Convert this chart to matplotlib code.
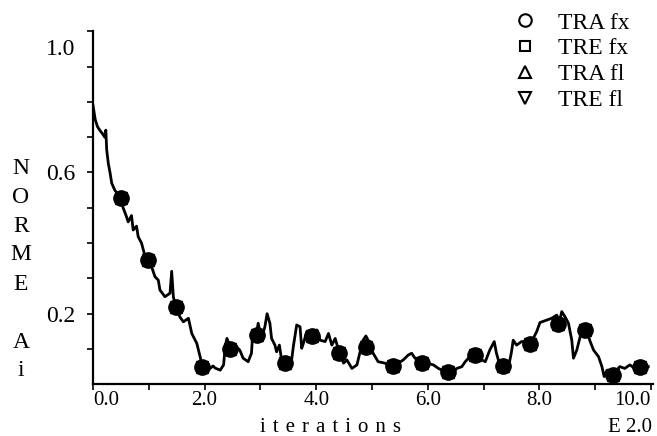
import matplotlib
matplotlib.use("Agg")
import matplotlib.pyplot as plt
from matplotlib.lines import Line2D
from matplotlib.transforms import ScaledTranslation

plt.rcParams['font.family'] = ['Liberation Serif', 'DejaVu Serif']

# norm curve
it_x = [0.00, 0.02, 0.04, 0.08, 0.12, 0.17, 0.21, 0.23, 0.245, 0.275, 0.305, 0.335,
        0.39, 0.44, 0.50, 0.54, 0.60, 0.63, 0.69, 0.72, 0.78, 0.81, 0.87, 0.92,
        0.99, 1.05, 1.11, 1.17, 1.20, 1.29, 1.38, 1.41, 1.44, 1.48, 1.56, 1.62,
        1.71, 1.77, 1.86, 1.92, 1.96, 2.03, 2.10, 2.15, 2.19, 2.28, 2.34, 2.37,
        2.40, 2.45, 2.54, 2.63, 2.69, 2.78, 2.84, 2.86, 2.93, 2.96, 3.02, 3.08,
        3.12, 3.17, 3.20, 3.26, 3.29, 3.34, 3.38, 3.47, 3.56, 3.59, 3.65, 3.71,
        3.74, 3.77, 3.83, 3.92, 4.01, 4.07, 4.16, 4.22, 4.28, 4.34, 4.40, 4.49,
        4.55, 4.64, 4.73, 4.78, 4.84, 4.89, 4.96, 5.02, 5.11, 5.23, 5.35, 5.47,
        5.56, 5.65, 5.71, 5.77, 5.86, 5.98, 6.10, 6.19, 6.31, 6.43, 6.52, 6.61,
        6.67, 6.73, 6.82, 6.91, 6.97, 7.03, 7.11, 7.19, 7.23, 7.29, 7.38, 7.46,
        7.50, 7.53, 7.59, 7.68, 7.80, 7.89, 7.95, 8.01, 8.13, 8.22, 8.31, 8.36,
        8.40, 8.46, 8.52, 8.58, 8.61, 8.67, 8.73, 8.76, 8.85, 8.91, 8.97, 9.06,
        9.12, 9.16, 9.21, 9.27, 9.36, 9.44, 9.53, 9.62, 9.71, 9.80, 9.89, 9.95]
norme = [0.79, 0.77, 0.75, 0.73, 0.72, 0.71, 0.70, 0.72, 0.665, 0.625, 0.60, 0.57,
         0.55, 0.54, 0.52, 0.50, 0.475, 0.46, 0.478, 0.437, 0.448, 0.418, 0.40, 0.37,
         0.35, 0.333, 0.305, 0.295, 0.267, 0.248, 0.258, 0.32, 0.248, 0.22, 0.19, 0.177,
         0.187, 0.144, 0.116, 0.078, 0.05, 0.05, 0.045, 0.052, 0.046, 0.04, 0.055, 0.107,
         0.13, 0.11, 0.11, 0.097, 0.074, 0.064, 0.088, 0.14, 0.144, 0.173, 0.13, 0.163,
         0.20, 0.173, 0.13, 0.111, 0.092, 0.111, 0.069, 0.064, 0.069, 0.107, 0.168, 0.163,
         0.102, 0.116, 0.149, 0.137, 0.154, 0.125, 0.121, 0.144, 0.111, 0.13, 0.097, 0.06,
         0.069, 0.045, 0.055, 0.088, 0.125, 0.137, 0.116, 0.088, 0.064, 0.06, 0.05, 0.06,
         0.069, 0.083, 0.088, 0.074, 0.064, 0.06, 0.055, 0.045, 0.036, 0.031, 0.045, 0.05,
         0.064, 0.074, 0.088, 0.083, 0.069, 0.064, 0.097, 0.121, 0.088, 0.055, 0.045, 0.06,
         0.092, 0.125, 0.111, 0.121, 0.121, 0.13, 0.149, 0.175, 0.182, 0.187, 0.196, 0.178,
         0.206, 0.191, 0.173, 0.125, 0.074, 0.097, 0.135, 0.154, 0.15, 0.121, 0.097, 0.078,
         0.05, 0.022, 0.04, 0.022, 0.036, 0.05, 0.045, 0.055, 0.045, 0.048, 0.05, 0.05]

# sampled points (the four series sit on top of each other)
mk_x = [0.50, 0.99, 1.48, 1.96, 2.45, 2.93, 3.44, 3.92, 4.40, 4.90,
        5.38, 5.89, 6.37, 6.85, 7.35, 7.83, 8.34, 8.82, 9.31, 9.80]
mk_y = [0.527, 0.352, 0.218, 0.05, 0.10, 0.14, 0.061, 0.137, 0.088, 0.107,
        0.053, 0.059, 0.036, 0.083, 0.053, 0.113, 0.17, 0.154, 0.026, 0.05]

series = ['TRA fx', 'TRE fx', 'TRA fl', 'TRE fl']
markers = ['o', 's', '^', 'v']
msizes = [11, 6, 8, 8]

x_ticks = [0, 1, 2, 3, 4, 5, 6, 7, 8, 9, 10]
x_labels = ['0.0', '', '2.0', '', '4.0', '', '6.0', '', '8.0', '', '10.0']
y_ticks = [0.1, 0.2, 0.3, 0.4, 0.5, 0.6, 0.7, 0.8, 0.9, 1.0]
y_labels = ['', '0.2', '', '', '', '0.6', '', '', '', '1.0']

fig = plt.figure(figsize=(6.57, 4.36), dpi=100)
ax = fig.add_axes([93/657, 1-384.3/436, (652.7-93)/657, (384.3-31.3)/436])
fs = 17
fs_b = 15

ax.plot(it_x, norme, color='black', lw=2.0)
for m, s in zip(markers, msizes):
    ax.plot(mk_x, mk_y, linestyle='none', marker=m, ms=s, color='black')

ax.set_xlim(0, 10.03)
ax.set_ylim(0, 1.0)
for sp in ['top', 'right']:
    ax.spines[sp].set_visible(False)
for sp in ['left', 'bottom']:
    ax.spines[sp].set_linewidth(1.6)

ax.set_xticks(x_ticks)
ax.set_xticklabels(x_labels, fontsize=fs_b)
ax.set_yticks(y_ticks)
ax.set_yticklabels(y_labels, fontsize=fs)
ax.tick_params(axis='both', direction='out', length=4, width=1.2, color='black')
ax.tick_params(axis='x', pad=1)
ax.tick_params(axis='y', pad=9)

xl = ax.get_xticklabels()
xl[0].set_horizontalalignment('left')
xl[-1].set_horizontalalignment('right')
yl = ax.get_yticklabels()
yl[-1].set_transform(yl[-1].get_transform() + ScaledTranslation(0, -11/72, fig.dpi_scale_trans))

# stacked y label
for i, ch in enumerate("NORME Ai"):
    if ch != ' ':
        fig.text(21/657, 1-(168 + 29*i)/436, ch, fontsize=fs, ha='center', va='center')

fig.text(330/657, 1-431.5/436, " \u200a".join("iterations"), fontsize=fs_b,
         ha='center', va='baseline')
fig.text(652/657, 1-431.5/436, "E 2.0", fontsize=fs_b, ha='right', va='baseline')

handles = [Line2D([], [], linestyle='none', marker=m, ms=9 if m != 's' else 7,
                  markerfacecolor='white', markeredgecolor='black', markeredgewidth=1.5)
           for m in markers]
fig.legend(handles, series, loc='upper left', bbox_to_anchor=(513/657, 1-12/436),
           bbox_transform=fig.transFigure, frameon=False, fontsize=fs,
           handlelength=1.0, handletextpad=0.9, labelspacing=0.18,
           borderpad=0, borderaxespad=0)

plt.savefig('out.png', dpi=100)
